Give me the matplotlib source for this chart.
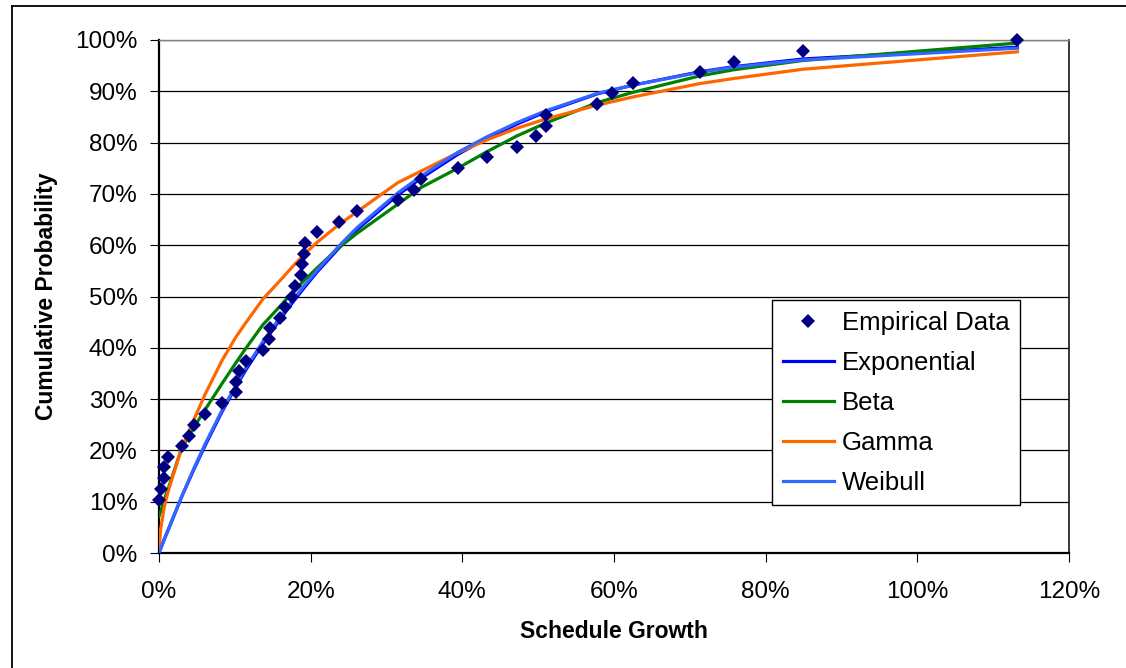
import matplotlib
matplotlib.use("Agg")
import matplotlib.pyplot as plt
from matplotlib.lines import Line2D
from matplotlib.ticker import PercentFormatter

plt.rcParams['font.family'] = ['Liberation Sans', 'DejaVu Sans']

# empirical points (schedule growth %, cumulative probability %)
emp_x = [0, 0.2, 0.7, 0.7, 1.2, 3.0, 4.0, 4.6, 6.1, 8.3, 10.1, 10.1, 10.5, 11.5,
         13.7, 14.5, 14.7, 15.9, 16.6, 17.6, 17.9, 18.7, 18.9, 19.1, 19.2, 20.8,
         23.7, 26.1, 31.5, 33.6, 34.5, 39.4, 43.2, 47.2, 49.7, 51.0, 51.0, 57.8,
         59.7, 62.5, 71.3, 75.8, 84.9, 113.2]
emp_y = [10.4, 12.5, 14.6, 16.7, 18.8, 20.8, 22.9, 25.0, 27.1, 29.2, 31.3, 33.3,
         35.4, 37.5, 39.6, 41.7, 43.8, 45.8, 47.9, 50.0, 52.1, 54.2, 56.3, 58.3,
         60.4, 62.5, 64.6, 66.7, 68.8, 70.8, 72.9, 75.0, 77.1, 79.2, 81.3, 83.3,
         85.4, 87.5, 89.6, 91.7, 93.8, 95.8, 97.9, 100.0]

# fitted curves, read at these x positions
fit_x = [0, 0.2, 0.7, 1.2, 3.0, 4.6, 6.1, 8.3, 10.1, 11.5, 13.7, 15.9, 17.6, 19.2,
         20.8, 23.7, 26.1, 31.5, 34.5, 39.4, 43.2, 47.2, 51.0, 57.8, 62.5, 71.3,
         75.8, 84.9, 113.2]
expo = [0, 0.8, 2.7, 4.5, 11, 16.3, 21, 27.5, 32.3, 35.8, 40.8, 45.4, 48.8, 51.8,
        54.7, 59.4, 63, 69.8, 73, 77.7, 80.8, 83.6, 86, 89.5, 91.2, 93.8, 94.8,
        96.3, 98.6]
beta = [7.2, 8, 10.5, 12.5, 20.5, 24.5, 28, 33, 37, 40, 44.5, 48, 50.8, 53.2,
        55.5, 59.5, 62.3, 68, 71.2, 75, 78.2, 81.3, 83.8, 87.8, 89.8, 93, 94.2,
        96, 99.4]
gamma = [0, 4.5, 9, 12, 20.5, 26, 31, 37.5, 42, 45, 49.5, 53, 55.8, 58.3, 60.5,
         64, 66.5, 72.2, 74.4, 78, 80.5, 82.8, 84.6, 87.3, 88.9, 91.5, 92.5, 94.3,
         97.7]
weibull = [0, 0.8, 2.6, 4.4, 11, 16.5, 21.3, 27.8, 32.6, 36.2, 41.2, 45.8, 49.2,
           52.2, 55, 59.8, 63.4, 70.2, 73.4, 78.1, 81.1, 83.9, 86.2, 89.6, 91.2,
           93.7, 94.7, 96.1, 98.4]

fig = plt.figure(figsize=(11.26, 6.68), dpi=100)
ax = fig.add_axes([159/1126, 1-553/668, 910/1126, 513/668])

lw = 2.3
ax.plot(fit_x, expo, color='#0000FF', lw=lw, label='Exponential', zorder=3)
ax.plot(fit_x, beta, color='#008000', lw=lw, label='Beta', zorder=3)
ax.plot(fit_x, gamma, color='#FF6600', lw=lw, label='Gamma', zorder=3)
ax.plot(fit_x, weibull, color='#3366FF', lw=lw, label='Weibull', zorder=3)
ax.plot(emp_x, emp_y, 'D', color='#000080', ms=7, mew=0, label='Empirical Data',
        zorder=4, clip_on=False)

ax.set_xlim(0, 120)
ax.set_ylim(0, 100)
ax.set_xticks(range(0, 121, 20))
ax.set_yticks(range(0, 101, 10))
ax.xaxis.set_major_formatter(PercentFormatter(decimals=0))
ax.yaxis.set_major_formatter(PercentFormatter(decimals=0))
ax.yaxis.grid(True, color='black', lw=0.9)
ax.set_axisbelow(True)
ax.tick_params(labelsize=17.5, length=6.5, width=0.8, direction='out')
ax.tick_params(axis='x', pad=14)
ax.tick_params(axis='y', pad=9)

for s in ['left', 'bottom']:
    ax.spines[s].set_linewidth(1.6)
ax.spines['right'].set_linewidth(1.1)
ax.spines['top'].set_linewidth(1.0)
ax.spines['top'].set_color('#808080')

ax.set_xlabel('Schedule Growth', fontsize=16.5, fontweight='bold')
ax.set_ylabel('Cumulative Probability', fontsize=16.5, fontweight='bold')
ax.xaxis.set_label_coords(0.5, (553-632)/513)
ax.xaxis.label.set_va('center')
ax.yaxis.set_label_coords((47-159)/910, 0.5)
ax.yaxis.label.set_va('center')

# legend: data first, then the fits
h, l = ax.get_legend_handles_labels()
order = [4, 0, 1, 2, 3]
leg = ax.legend([h[i] for i in order], [l[i] for i in order],
                loc='upper left', bbox_to_anchor=(772/1126, 1-300/668),
                bbox_transform=fig.transFigure, borderaxespad=0,
                fontsize=18.5, frameon=True, fancybox=False, framealpha=1,
                edgecolor='black', handlelength=2.0, handletextpad=0.3,
                labelspacing=0.62, borderpad=0.42)
leg.get_frame().set_linewidth(1.0)

# outer chart border
fig.add_artist(Line2D([11.5/1126, 11.5/1126], [0, 1-5.5/668], color='black',
                      lw=1.3, transform=fig.transFigure))
fig.add_artist(Line2D([11.5/1126, 1], [1-5.5/668, 1-5.5/668], color='black',
                      lw=1.3, transform=fig.transFigure))

fig.savefig('out.png', dpi=100)
